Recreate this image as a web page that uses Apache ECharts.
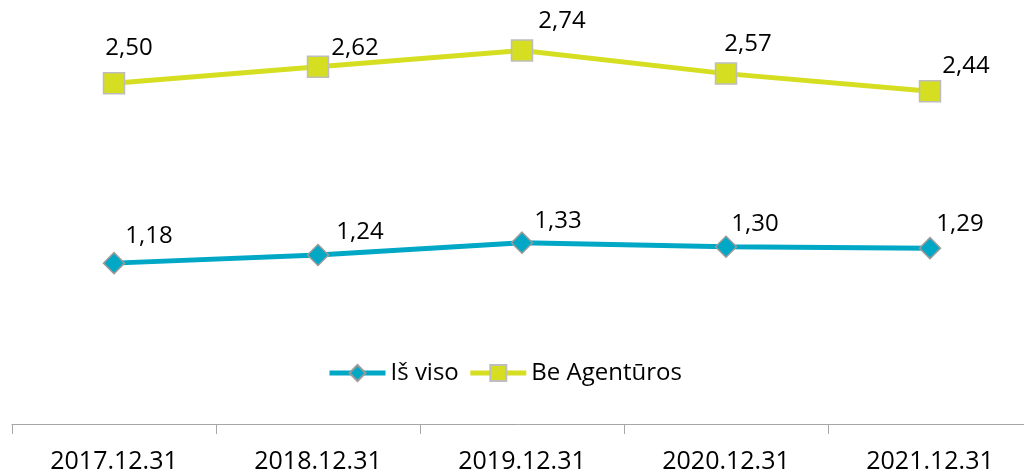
<!DOCTYPE html>
<html>
<head>
<meta charset="utf-8">
<script src="https://cdn.jsdelivr.net/npm/echarts@6/dist/echarts.min.js"></script>
<style>
  html, body { margin: 0; padding: 0; background: #fff; }
  #chart { width: 1024px; height: 472px; }
</style>
</head>
<body>
<div id="chart"></div>
<script>
const categories = ['2017.12.31', '2018.12.31', '2019.12.31', '2020.12.31', '2021.12.31']
const isViso = [1.18, 1.24, 1.33, 1.30, 1.29]
const beAgenturos = [2.50, 2.62, 2.74, 2.57, 2.44]

// label placement, like Excel put them (offset from point centre)
const tealLabelOffsets = [[35, -27], [42, -23], [36, -22], [29, -23], [30, -24]]
const yellowLabelOffsets = [[15, -35], [37, -19], [40, -29], [22, -29], [36, -25]]

const fontFamily = '"Open Sans", "Noto Sans", sans-serif'
const fmt = v => v.toFixed(2).replace('.', ',')

const withLabels = (values, offsets) => values.map((v, i) => ({
  value: v,
  label: { offset: offsets[i] }
}))

const chart = echarts.init(document.getElementById('chart'))

const option = {
  animation: false,
  textStyle: { fontFamily },
  grid: {
    left: 12,
    width: 1020,
    top: 15,
    bottom: 48,
    outerBoundsMode: 'none'
  },
  legend: {
    top: 361,
    left: 327,
    padding: 0,
    itemWidth: 56,
    itemHeight: 20,
    itemGap: 9,
    lineStyle: { width: 5 },
    textStyle: { fontSize: 24, color: '#000', fontFamily },
    data: ['Iš viso', 'Be Agentūros']
  },
  xAxis: {
    type: 'category',
    data: categories,
    axisLine: { lineStyle: { color: '#a6a6a6', width: 1 } },
    axisTick: { show: true, length: 10, lineStyle: { color: '#a6a6a6' } },
    axisLabel: { fontSize: 25, color: '#000', margin: 25, fontFamily }
  },
  yAxis: {
    type: 'value',
    min: 0,
    max: 3,
    show: false
  },
  series: [
    {
      name: 'Iš viso',
      type: 'line',
      data: withLabels(isViso, tealLabelOffsets),
      symbol: 'diamond',
      symbolSize: 21,
      lineStyle: { color: '#00a8c6', width: 5 },
      itemStyle: { color: '#00a8c6', borderColor: '#9a9a9a', borderWidth: 1.5 },
      label: {
        show: true,
        position: 'inside',
        fontSize: 24,
        color: '#000',
        fontFamily,
        formatter: p => fmt(p.value)
      }
    },
    {
      name: 'Be Agentūros',
      type: 'line',
      data: withLabels(beAgenturos, yellowLabelOffsets),
      symbol: 'rect',
      symbolSize: 21,
      lineStyle: { color: '#d6de22', width: 5 },
      itemStyle: { color: '#d6de22', borderColor: '#bdbdbd', borderWidth: 1.5 },
      label: {
        show: true,
        position: 'inside',
        fontSize: 24,
        color: '#000',
        fontFamily,
        formatter: p => fmt(p.value)
      }
    }
  ]
}

chart.setOption(option)
</script>
</body>
</html>
